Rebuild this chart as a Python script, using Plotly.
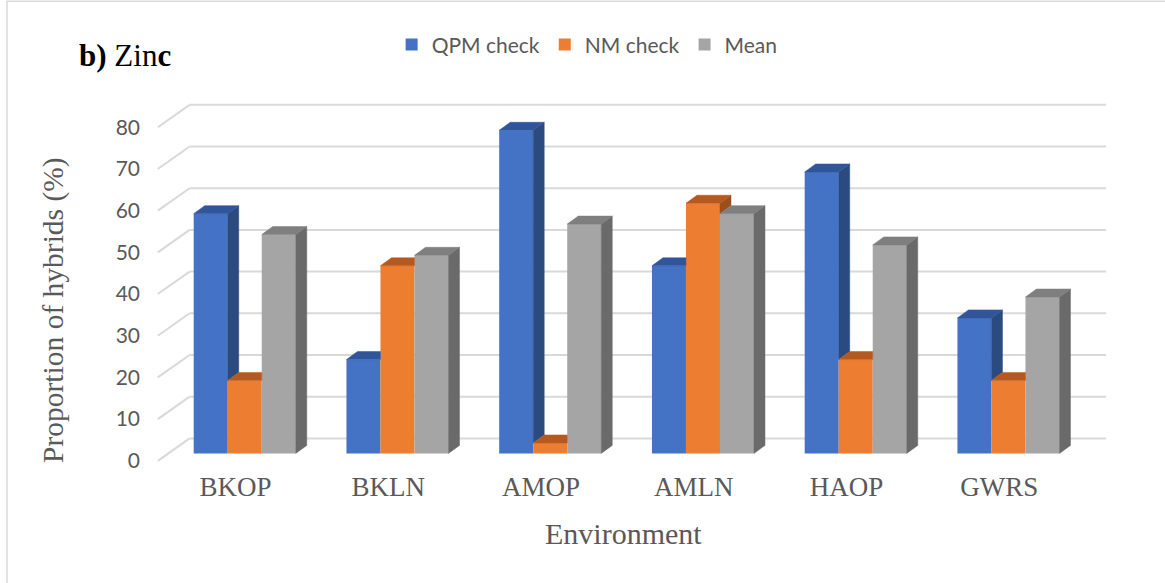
import plotly.graph_objects as go

# ---------------- data ----------------
categories = ["BKOP", "BKLN", "AMOP", "AMLN", "HAOP", "GWRS"]
qpm_check = [57.5, 22.5, 77.5, 45.0, 67.5, 32.5]
nm_check = [17.5, 45.0, 2.5, 60.0, 22.5, 17.5]
mean_vals = [52.5, 47.5, 55.0, 57.5, 50.0, 37.5]
series_names = ["QPM check", "NM check", "Mean"]
y_ticks = [0, 10, 20, 30, 40, 50, 60, 70, 80]

# ---------------- styles ----------------
FRONT = ["#4472C4", "#ED7D31", "#A5A5A5"]
TOP = ["#30559A", "#B5591F", "#7F7F7F"]
SIDE = ["#2B4A80", "#9E4E1B", "#6A6A6A"]
GRID = "#D9D9D9"
TXT = "#595959"

W = 0.2227              # bar width (category units)
BAR_DX, BAR_DY = 0.072, 1.92      # bar depth projection (x units, y units)
FRONT_DX, FRONT_DY = -0.069, -1.78  # floor front edge relative to bar plane
BACK_DX, BACK_DY = 0.139, 3.6       # back wall relative to bar plane
XL, XR = -0.5, 5.5

# pixel layout
FIG_W, FIG_H = 1165, 583
PLOT_L, PLOT_R, PLOT_T, PLOT_B = 141.0, 1122.7, 99.2, 467.9
X0_PX, XU = 244.7, 152.7
Y0_PX, YU = 453.3, 4.166
x_range = [(PLOT_L - X0_PX) / XU, (PLOT_R - X0_PX) / XU]
y_range = [(Y0_PX - PLOT_B) / YU, (Y0_PX - PLOT_T) / YU]


def px_to_paper_x(px):
    return (px - PLOT_L) / (PLOT_R - PLOT_L)


def px_to_paper_y(py):
    return (PLOT_B - py) / (PLOT_B - PLOT_T)


series = [qpm_check, nm_check, mean_vals]
xs = list(range(len(categories)))

fig = go.Figure()

# front faces
for k, vals in enumerate(series):
    fig.add_trace(go.Bar(
        x=xs, y=vals, width=W, offset=-1.5 * W + k * W,
        marker=dict(color=FRONT[k], line=dict(width=0)),
        name=series_names[k], hovertemplate="%{y}<extra>" + series_names[k] + "</extra>",
    ))

# 3D top and side faces, computed from the data
for k, vals in enumerate(series):
    tx, ty, sx, sy = [], [], [], []
    for i in xs:
        L = i - 1.5 * W + k * W
        R = L + W
        v = vals[i]
        nxt = series[k + 1][i] if k < len(series) - 1 else None
        pts = [(L, v), (R, v)]
        if nxt is None or nxt <= v:
            pts.append((R + BAR_DX, v + BAR_DY))
        elif nxt >= v + BAR_DY:
            pts.append((R, v + BAR_DY))
        else:
            pts += [(R, nxt), (R + BAR_DX * (nxt - v) / BAR_DY, nxt), (R + BAR_DX, v + BAR_DY)]
        pts.append((L + BAR_DX, v + BAR_DY))
        pts.append((L, v))
        tx += [p[0] for p in pts] + [None]
        ty += [p[1] for p in pts] + [None]
        base = 0 if nxt is None else max(0, nxt)
        if nxt is None or nxt < v:
            spts = [(R, base), (R, v), (R + BAR_DX, v + BAR_DY), (R + BAR_DX, base + BAR_DY), (R, base)]
            sx += [p[0] for p in spts] + [None]
            sy += [p[1] for p in spts] + [None]
    fig.add_trace(go.Scatter(x=sx, y=sy, mode="lines", fill="toself", fillcolor=SIDE[k],
                             line=dict(color=SIDE[k], width=0.5), showlegend=False, hoverinfo="skip"))
    fig.add_trace(go.Scatter(x=tx, y=ty, mode="lines", fill="toself", fillcolor=TOP[k],
                             line=dict(color=TOP[k], width=0.5), showlegend=False, hoverinfo="skip"))

# back wall gridlines and side wall diagonals
shapes = []
for v in y_ticks:
    shapes.append(dict(type="line", xref="x", yref="y", layer="below",
                       x0=XL + BACK_DX, x1=XR + BACK_DX, y0=v + BACK_DY, y1=v + BACK_DY,
                       line=dict(color=GRID, width=2)))
    shapes.append(dict(type="line", xref="x", yref="y", layer="below",
                       x0=XL + FRONT_DX, x1=XL + BACK_DX, y0=v + FRONT_DY, y1=v + BACK_DY,
                       line=dict(color=GRID, width=2)))
# chart border (left and top)
shapes.append(dict(type="line", xref="paper", yref="paper", layer="below",
                   x0=px_to_paper_x(7), x1=px_to_paper_x(7), y0=px_to_paper_y(1), y1=px_to_paper_y(583),
                   line=dict(color=GRID, width=1.5)))
shapes.append(dict(type="line", xref="paper", yref="paper", layer="below",
                   x0=px_to_paper_x(7), x1=px_to_paper_x(1165), y0=px_to_paper_y(1.5), y1=px_to_paper_y(1.5),
                   line=dict(color=GRID, width=1.5)))

annotations = [
    dict(text="<b>b)</b> Zin<b>c</b>", xref="paper", yref="paper",
         x=px_to_paper_x(77), y=px_to_paper_y(56), xanchor="left", yanchor="middle",
         showarrow=False, font=dict(family="Liberation Serif", size=31, color="#000000")),
    dict(text="Environment", xref="paper", yref="paper",
         x=px_to_paper_x(623), y=px_to_paper_y(533), xanchor="center", yanchor="middle",
         showarrow=False, font=dict(family="Liberation Serif", size=30, color=TXT)),
    dict(text="Proportion of hybrids (%)", xref="paper", yref="paper", textangle=-90,
         x=px_to_paper_x(54), y=px_to_paper_y(310), xanchor="center", yanchor="middle",
         showarrow=False, font=dict(family="Liberation Serif", size=29.5, color=TXT)),
]

fig.update_layout(
    width=FIG_W, height=FIG_H,
    margin=dict(l=PLOT_L, r=FIG_W - PLOT_R, t=PLOT_T, b=FIG_H - PLOT_B, pad=0),
    paper_bgcolor="white", plot_bgcolor="white",
    barmode="overlay",
    shapes=shapes, annotations=annotations,
    showlegend=True,
    legend=dict(orientation="h", x=px_to_paper_x(587), xanchor="center",
                y=px_to_paper_y(45), yanchor="middle",
                font=dict(family="Lato", size=21, color=TXT), bgcolor="rgba(0,0,0,0)"),
    xaxis=dict(range=x_range, tickvals=[i - 0.06 for i in xs], ticktext=categories,
               showgrid=False, zeroline=False, showline=False, ticks="",
               tickfont=dict(family="Liberation Serif", size=27, color=TXT)),
    yaxis=dict(range=y_range, tickvals=[v + FRONT_DY for v in y_ticks], ticktext=[str(v) for v in y_ticks],
               showgrid=False, zeroline=False, showline=False, ticks="",
               tickfont=dict(family="Lato", size=21, color=TXT)),
)

fig.write_html("out.html")
